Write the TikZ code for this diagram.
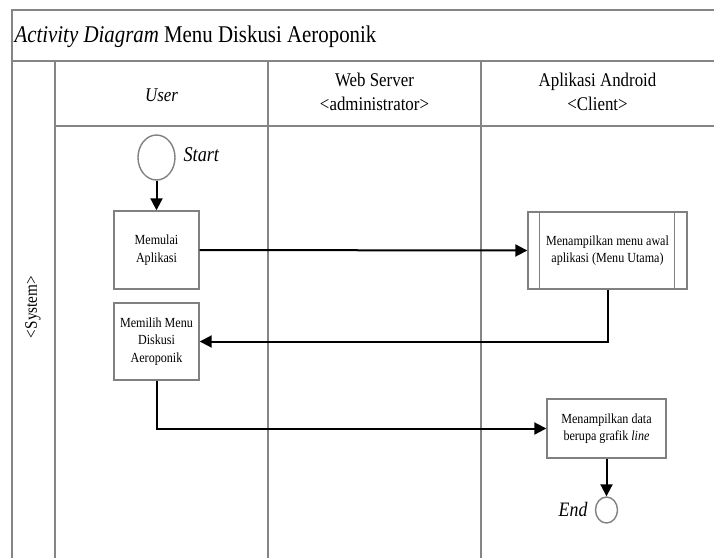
\documentclass[tikz,border=0pt]{standalone}
\usepackage{fontspec}
\setmainfont[FakeStretch=0.87]{Liberation Serif}
\usetikzlibrary{arrows.meta,shapes.geometric}
\begin{document}
\begin{tikzpicture}[x=1pt,y=-1pt,
  lane/.style={draw=black!48,line width=2pt},
  actbox/.style={draw=black!50,line width=1.4pt,fill=white,align=center,
    inner sep=2pt,font=\fontsize{13.9}{17.5}\selectfont},
  state/.style={draw=black!50,line width=1.4pt,ellipse,inner sep=0pt},
  flow/.style={draw=black,line width=2pt,-{Triangle[length=12pt,width=12pt]}},
  hdr/.style={align=center,font=\fontsize{19.4}{24}\selectfont}]
\useasboundingbox (0,0) rectangle (714,558);
% swimlane frame
\draw[lane] (714,10) -- (12,10) -- (12,558);
\draw[lane] (12,61) -- (714,61);
\draw[lane] (55,126) -- (714,126);
\draw[lane] (55,61) -- (55,558);
\draw[lane] (268,61) -- (268,558);
\draw[lane] (481,61) -- (481,558);
% titles
\node[anchor=west,font=\fontsize{24}{26}\selectfont] (title) at (11,37)
  {\textit{Activity Diagram} Menu Diskusi Aeroponik};
\node[hdr] (huser) at (161.5,95) {\textit{User}};
\node[hdr] (hweb) at (374.5,92) {Web Server\\<administrator>};
\node[hdr] (hand) at (597.5,92) {Aplikasi Android\\<Client>};
\node[hdr,rotate=90,font=\fontsize{17.5}{20}\selectfont] (hsys) at (33,307) {<System>};
% activities
\node[state,minimum width=37pt,minimum height=45pt] (start) at (156.5,157.5) {};
\node[font=\fontsize{21}{22}\selectfont\itshape,anchor=west] (lstart) at (180,155) {Start};
\node[actbox,minimum width=85pt,minimum height=78pt] (b1) at (156.5,250) {Memulai\\Aplikasi};
\node[actbox,minimum width=85pt,minimum height=77pt] (b2) at (156.5,341.5) {Memilih Menu\\Diskusi\\Aeroponik};
\node[actbox,minimum width=159pt,minimum height=77pt] (b3) at (607.5,250.5) {Menampilkan menu awal\\aplikasi (Menu Utama)};
\draw[draw=black!50,line width=1.4pt] ([xshift=12pt]b3.north west) -- ([xshift=12pt]b3.south west)
  ([xshift=-13pt]b3.north east) -- ([xshift=-13pt]b3.south east);
\node[actbox,minimum width=119pt,minimum height=59pt] (b4) at (606.5,428.5) {Menampilkan data\\berupa grafik \textit{line}};
\node[state,minimum width=22pt,minimum height=26pt] (end) at (606.5,510) {};
\node[font=\fontsize{20.5}{22}\selectfont\itshape,anchor=east] (lend) at (591,509) {End};
% control flow
\draw[flow] (start) -- (b1);
\draw[flow] (b1.east) -- (b3.west);
\draw[flow] (b3.south) |- (b2.east);
\draw[flow] (b2.south) |- (b4.west);
\draw[flow] (b4.south) -- (end.north);
\end{tikzpicture}
\end{document}
